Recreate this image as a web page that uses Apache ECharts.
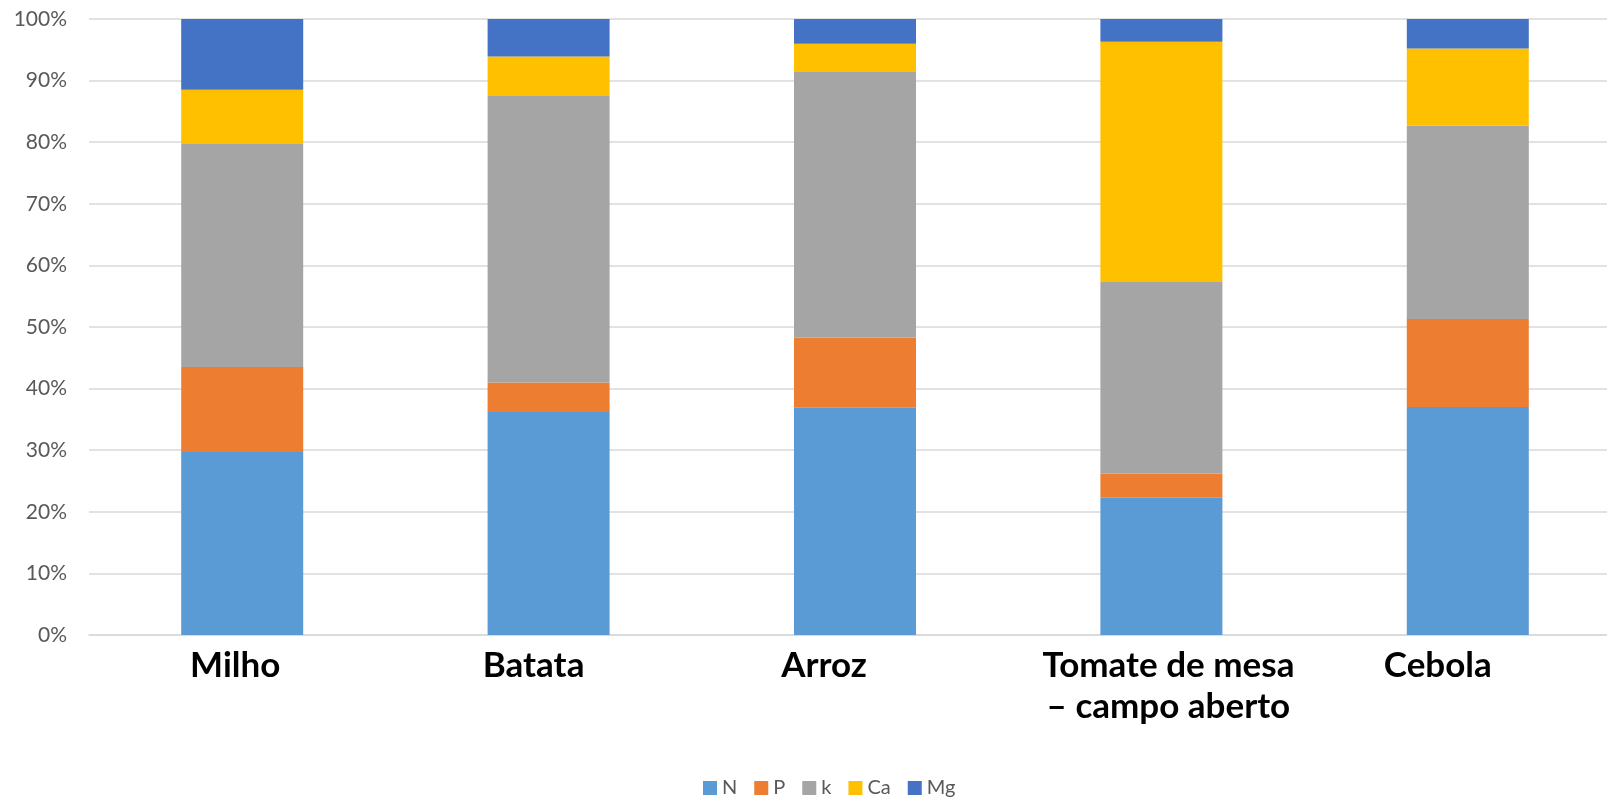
<!DOCTYPE html>
<html>
<head>
<meta charset="utf-8">
<script src="https://cdn.jsdelivr.net/npm/echarts@6/dist/echarts.min.js"></script>
<style>
  html, body { margin: 0; padding: 0; background: #fff; }
  #chart { width: 1607px; height: 799px; }
</style>
</head>
<body>
<div id="chart"></div>
<script>
// culturas
const categories = ["Milho", "Batata", "Arroz", "Tomate de mesa\n– campo aberto", "Cebola"];
// percentagens
const nData = [29.7, 36.2, 36.9, 22.3, 37.0];
const pData = [13.8, 4.8, 11.4, 3.9, 14.3];
const kData = [36.2, 46.5, 43.1, 31.1, 31.4];
const caData = [8.8, 6.4, 4.6, 39.0, 12.5];
const mgData = [11.5, 6.1, 4.0, 3.7, 4.8];
const yTicks = [0, 10, 20, 30, 40, 50, 60, 70, 80, 90, 100];

const chart = echarts.init(document.getElementById("chart"));

// pequeno deslocamento dos rótulos, como no original
const labelKeys = ["m", "b", "a", "t", "c"];
const rich = {
  m: { padding: [0, 14, 0, 0] },
  b: { padding: [0, 30, 0, 0] },
  a: { padding: [0, 62, 0, 0] },
  t: { padding: [0, 0, 0, 14] },
  c: { padding: [0, 60, 0, 0] },
};
Object.keys(rich).forEach((k) => {
  Object.assign(rich[k], {
    fontFamily: "Lato",
    fontWeight: "bold",
    fontSize: 35,
    color: "#000",
    lineHeight: 41,
  });
});

function bar(name, data, color) {
  return {
    name: name,
    type: "bar",
    stack: "total",
    barWidth: 122,
    data: data,
    itemStyle: { color: color },
  };
}

const option = {
  animation: false,
  grid: { left: 89, width: 1532, top: 19, bottom: 164, outerBoundsMode: "none" },
  legend: {
    left: 703,
    top: 778,
    padding: 0,
    itemWidth: 14,
    itemHeight: 14,
    itemGap: 17,
    icon: "rect",
    textStyle: { fontFamily: "Lato", fontSize: 20, color: "#595959" },
  },
  xAxis: {
    type: "category",
    data: categories,
    axisTick: { show: false },
    axisLine: { lineStyle: { color: "#d9d9d9", width: 1.5 } },
    axisLabel: {
      margin: 10,
      interval: 0,
      formatter: (v, i) => {
        const key = labelKeys[i];
        return v.split("\n").map((line) => "{" + key + "|" + line + "}").join("\n");
      },
      rich: rich,
    },
  },
  yAxis: {
    type: "value",
    min: 0,
    max: 100,
    interval: 10,
    axisLine: { show: false },
    axisTick: { show: false },
    splitLine: { lineStyle: { color: "#d9d9d9", width: 1.5 } },
    axisLabel: {
      margin: 22,
      fontFamily: "Lato",
      fontSize: 21,
      color: "#595959",
      formatter: (v) => (yTicks.includes(v) ? v + "%" : ""),
    },
  },
  series: [
    bar("N", nData, "#5b9bd5"),
    bar("P", pData, "#ed7d31"),
    bar("k", kData, "#a5a5a5"),
    bar("Ca", caData, "#ffc000"),
    bar("Mg", mgData, "#4472c4"),
  ],
};

chart.setOption(option);
</script>
</body>
</html>
